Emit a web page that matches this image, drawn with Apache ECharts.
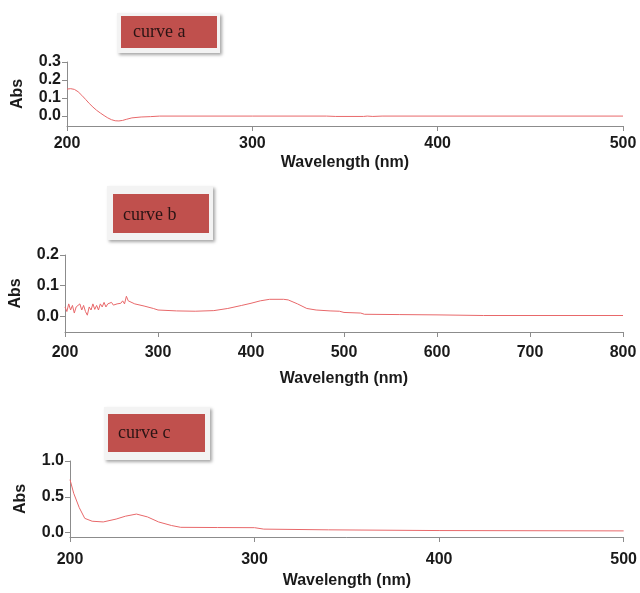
<!DOCTYPE html>
<html>
<head>
<meta charset="utf-8">
<script src="https://cdn.jsdelivr.net/npm/echarts@6/dist/echarts.min.js"></script>
<style>
html, body { margin: 0; padding: 0; background: #fff; }
#main { width: 640px; height: 593px; }
</style>
</head>
<body>
<div id="main"></div>
<script>
/*----- data -----*/
var waveA = [200, 202, 204, 206, 208, 210, 212, 214, 216, 218, 220, 222, 224, 226, 228, 230, 232, 235, 240, 245, 250, 300, 340, 345, 360, 362, 365, 370, 500];
var absA = [0.15, 0.152, 0.148, 0.135, 0.115, 0.093, 0.07, 0.05, 0.032, 0.017, 0.003, -0.01, -0.02, -0.026, -0.027, -0.024, -0.018, -0.01, -0.005, -0.003, 0.0, 0.0, 0.0, -0.002, -0.002, 0.0, -0.002, 0.0, 0.0];

var waveB = [200, 202, 204, 206, 208, 210, 212, 214, 216, 218, 220, 222, 224, 226, 228, 230, 232, 234, 236, 238, 240, 242, 244, 246, 248, 250, 252, 254, 256, 258, 260, 262, 264, 266, 268, 270,
    275, 285, 295, 300, 320, 340, 360, 375, 390, 400, 410, 420, 435, 440, 450, 460, 470, 485, 495, 500, 518, 522, 560, 600, 650, 800];
var absB = [0.03, 0.015, 0.04, 0.02, 0.035, 0.01, 0.03, 0.025, 0.04, 0.02, 0.035, 0.015, 0.003, 0.03, 0.02, 0.04, 0.022, 0.035, 0.02, 0.04, 0.03, 0.045, 0.03, 0.04, 0.035, 0.045, 0.036, 0.042, 0.04, 0.045, 0.042, 0.05, 0.04, 0.065, 0.05, 0.045,
    0.04, 0.033, 0.025, 0.02, 0.017, 0.016, 0.018, 0.025, 0.035, 0.042, 0.05, 0.055, 0.055, 0.053, 0.04, 0.025, 0.02, 0.017, 0.016, 0.012, 0.01, 0.006, 0.005, 0.004, 0.002, 0.002];

var waveC = [200, 202, 205, 208, 212, 218, 225, 230, 236, 242, 248, 255, 260, 280, 300, 305, 340, 400, 500];
var absC = [0.74, 0.55, 0.35, 0.2, 0.16, 0.15, 0.19, 0.23, 0.26, 0.22, 0.15, 0.1, 0.075, 0.072, 0.07, 0.05, 0.04, 0.03, 0.025];

var labelA = 'curve a';
var labelB = 'curve b';
var labelC = 'curve c';
var xName = 'Wavelength (nm)';
var yName = 'Abs';

function pairs(xs, ys){
	var out = [];
	for(var i = 0; i < xs.length; i++){
		out.push([xs[i], ys[i]]);
	}
	return out;
}

var lineColor = '#e8686a';
var axisColor = '#8c8c8c';
var labelFont = {
	color: '#1a1a1a',
	fontFamily: 'Liberation Sans',
	fontWeight: 'bold',
	fontSize: 16
};
var nameFont = { color: '#1a1a1a', fontFamily: 'Liberation Sans', fontWeight: 'bold', fontSize: 16 };

function xAxisOf(idx, max, margin, gap){
	return {
		type: 'value',
		gridIndex: idx,
		min: 200,
		max: max,
		interval: 100,
		name: xName,
		nameLocation: 'middle',
		nameGap: gap,
		nameTextStyle: nameFont,
		axisLine: { onZero: false, lineStyle: { color: axisColor } },
		axisTick: { length: 5, lineStyle: { color: axisColor } },
		axisLabel: Object.assign({ margin: margin }, labelFont),
		splitLine: { show: false }
	};
}

function yAxisOf(idx, min, max, ticks, gap){
	return {
		type: 'value',
		gridIndex: idx,
		min: min,
		max: max,
		name: yName,
		nameLocation: 'middle',
		nameGap: gap,
		nameTextStyle: nameFont,
		axisLine: { show: true, lineStyle: { color: axisColor } },
		axisTick: { show: true, length: 5, customValues: ticks, lineStyle: { color: axisColor } },
		axisLabel: Object.assign({
			margin: 6,
			customValues: ticks,
			formatter: function(v){ return v.toFixed(1); }
		}, labelFont),
		splitLine: { show: false }
	};
}

function labelBox(outer, inner, text, textX, textY){
	return [
		{ type: 'rect', shape: { x: outer[0], y: outer[1], width: outer[2], height: outer[3] },
		  style: { fill: '#f3f3f3', shadowBlur: 3, shadowOffsetX: 2, shadowOffsetY: 2, shadowColor: 'rgba(0,0,0,0.35)' } },
		{ type: 'rect', shape: { x: inner[0], y: inner[1], width: inner[2], height: inner[3] },
		  style: { fill: '#c0504d' } },
		{ type: 'text', x: textX, y: textY,
		  style: { text: text, fill: '#2a1414', font: '18px "Liberation Serif"', verticalAlign: 'middle' } }
	];
}

var option = {
	animation: false,
	grid: [
		{ left: 67, right: 17, top: 62, bottom: 467 },
		{ left: 63, right: 17, top: 255, bottom: 261 },
		{ left: 70, right: 16, top: 461, bottom: 56 }
	],
	xAxis: [
		xAxisOf(0, 500, 10, 29),
		xAxisOf(1, 800, 13, 39),
		xAxisOf(2, 500, 15, 36)
	],
	yAxis: [
		yAxisOf(0, -0.055, 0.3, [0, 0.1, 0.2, 0.3], 41),
		yAxisOf(1, -0.052, 0.2, [0, 0.1, 0.2], 41),
		yAxisOf(2, -0.06, 1.0, [0, 0.5, 1.0], 41)
	],
	series: [
		{ type: 'line', xAxisIndex: 0, yAxisIndex: 0, data: pairs(waveA, absA), showSymbol: false, lineStyle: { color: lineColor, width: 1 } },
		{ type: 'line', xAxisIndex: 1, yAxisIndex: 1, data: pairs(waveB, absB), showSymbol: false, lineStyle: { color: lineColor, width: 1 } },
		{ type: 'line', xAxisIndex: 2, yAxisIndex: 2, data: pairs(waveC, absC), showSymbol: false, lineStyle: { color: lineColor, width: 1 } }
	],
	graphic: [].concat(
		labelBox([117, 13, 103, 40], [121, 16, 96, 32], labelA, 133, 32),
		labelBox([107, 186, 106, 54], [113, 194, 96, 39], labelB, 123, 215),
		labelBox([104, 407, 106, 53], [108, 414, 97, 38], labelC, 118, 433)
	)
};
echarts.init(document.getElementById('main')).setOption(option, true);
</script>
</body>
</html>
